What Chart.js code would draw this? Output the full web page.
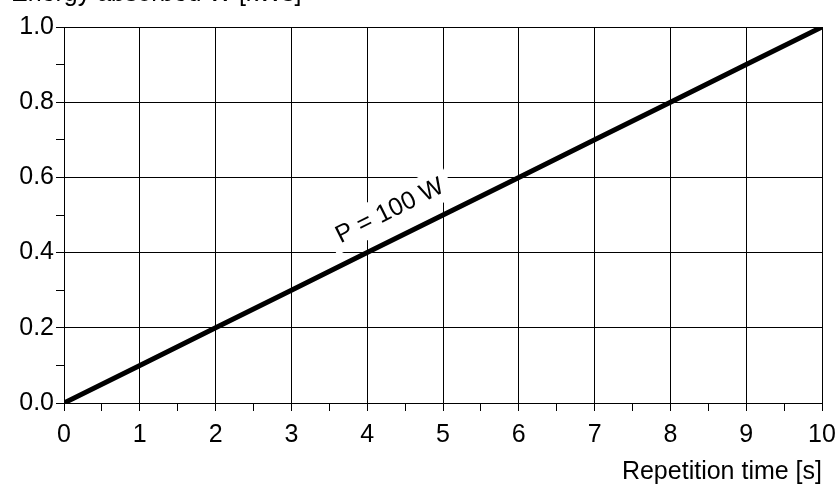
<!DOCTYPE html>
<html>
<head>
<meta charset="utf-8">
<script src="https://cdn.jsdelivr.net/npm/chart.js@4"></script>
<style>
  html, body { margin: 0; padding: 0; background: #fff; }
  #wrap { width: 840px; height: 488px; }
</style>
</head>
<body>
<div id="wrap"><canvas id="energyChart" width="840" height="488"></canvas></div>
<script>
// Data
const repetitionTime = [0, 1, 2, 3, 4, 5, 6, 7, 8, 9, 10];
const energyKWs = [0, 0.1, 0.2, 0.3, 0.4, 0.5, 0.6, 0.7, 0.8, 0.9, 1.0];
const curveLabel = 'P = 100 W';
const xTitle = 'Repetition time [s]';
const yTitle = 'Energy absorbed W [kWs]';

const FONT = '"Liberation Sans", Arial, Helvetica, sans-serif';
const FS = 25;

// Rotated curve label with a white box behind it, and the clipped y title at the very top
const annotations = {
    id: 'annotations',
    beforeDatasetsDraw(chart) {
        const c = chart.ctx;
        const x = chart.scales.x, y = chart.scales.y;
        const p0 = [x.getPixelForValue(0), y.getPixelForValue(0)];
        const p1 = [x.getPixelForValue(10), y.getPixelForValue(1)];
        const ang = Math.atan2(p1[1] - p0[1], p1[0] - p0[0]);
        const cx = x.getPixelForValue(4.3), cy = y.getPixelForValue(0.51);
        c.save();
        c.translate(cx, cy);
        c.rotate(ang);
        c.font = FS + 'px ' + FONT;
        const w = c.measureText(curveLabel).width;
        c.fillStyle = '#fff';
        c.fillRect(-w / 2 - 8, -18, w + 16, 34);
        c.fillStyle = '#000';
        c.textAlign = 'center';
        c.textBaseline = 'middle';
        c.fillText(curveLabel, 0, 0);
        c.restore();
    },
    afterDraw(chart) {
        const c = chart.ctx;
        c.save();
        c.font = FS + 'px ' + FONT;
        c.fillStyle = '#000';
        c.textAlign = 'left';
        c.textBaseline = 'alphabetic';
        c.fillText(yTitle, 11, 1);
        c.restore();
    }
};

const ctx = document.getElementById('energyChart').getContext('2d');
const energyChart = new Chart(ctx, {
    type: 'line',
    data: {
        datasets: [{
            data: repetitionTime.map((t, i) => ({ x: t, y: energyKWs[i] })),
            borderColor: '#000',
            borderWidth: 5,
            pointRadius: 0,
            fill: false,
            tension: 0
        }]
    },
    options: {
        responsive: false,
        animation: false,
        events: [],
        layout: { padding: { left: 0, right: 18, top: 27, bottom: 0 } },
        plugins: {
            legend: { display: false },
            tooltip: { enabled: false }
        },
        scales: {
            x: {
                type: 'linear',
                min: 0,
                max: 10,
                afterFit: s => { s.height = 85; s.paddingRight = 0; s.paddingLeft = 0; },
                ticks: {
                    stepSize: 0.5,
                    autoSkip: false,
                    maxRotation: 0,
                    padding: 9,
                    color: '#000',
                    font: { family: FONT, size: FS },
                    callback: v => (Math.abs(v - Math.round(v)) < 1e-6 ? String(Math.round(v)) : '')
                },
                grid: {
                    color: c => (Math.abs(c.tick.value - Math.round(c.tick.value)) < 1e-6 ? '#000' : 'rgba(0,0,0,0)'),
                    tickColor: '#000',
                    tickLength: 8,
                    lineWidth: 1
                },
                border: { color: '#000', width: 1 },
                title: {
                    display: true,
                    text: xTitle,
                    align: 'end',
                    color: '#000',
                    font: { family: FONT, size: FS },
                    padding: { top: 0, bottom: 1 }
                }
            },
            y: {
                type: 'linear',
                min: 0,
                max: 1,
                afterFit: s => { s.width = 64; },
                ticks: {
                    stepSize: 0.1,
                    autoSkip: false,
                    padding: 2,
                    color: '#000',
                    font: { family: FONT, size: FS },
                    callback: v => (Math.round(v * 10) % 2 === 0 ? v.toFixed(1) : '')
                },
                grid: {
                    color: c => (Math.round(c.tick.value * 10) % 2 === 0 ? '#000' : 'rgba(0,0,0,0)'),
                    tickColor: '#000',
                    tickLength: 8,
                    lineWidth: 1
                },
                border: { color: '#000', width: 1 }
            }
        }
    },
    plugins: [annotations]
});
</script>
</body>
</html>
